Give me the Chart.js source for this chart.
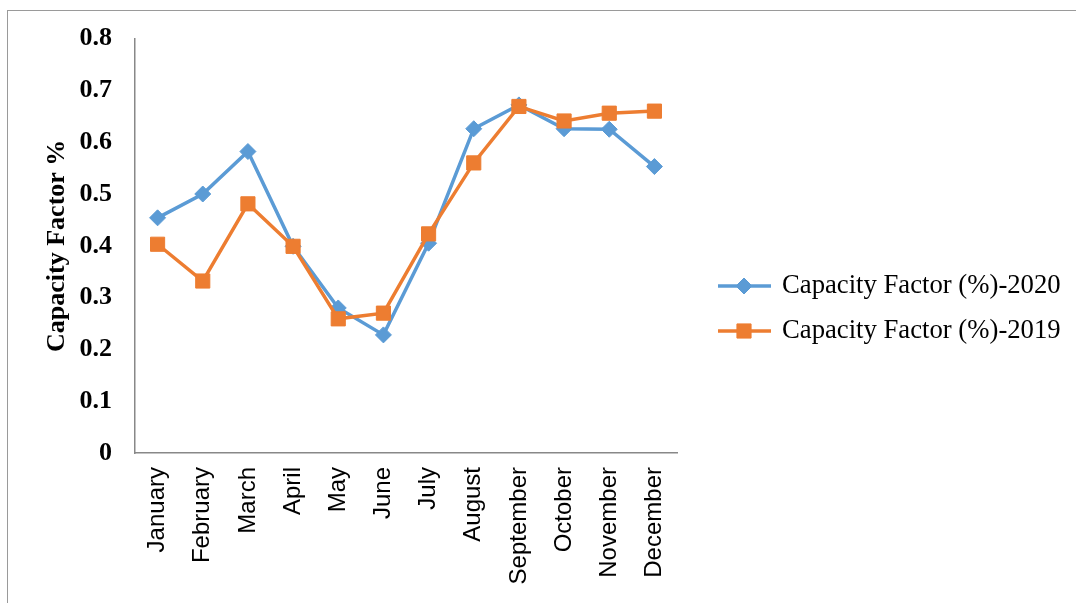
<!DOCTYPE html>
<html>
<head>
<meta charset="utf-8">
<script src="https://cdn.jsdelivr.net/npm/chart.js@4/dist/chart.umd.min.js"></script>
<style>
  html, body { margin: 0; padding: 0; background: #fff; }
  body { width: 1076px; height: 603px; position: relative; overflow: hidden; }
  #frame { position: absolute; left: 7px; top: 10px; width: 1200px; height: 700px;
           border-left: 1.5px solid #9a9a9a; border-top: 1.5px solid #9a9a9a; }
  #wrap { position: absolute; left: 0; top: 0; width: 1076px; height: 603px; }
</style>
</head>
<body>
<div id="frame"></div>
<div id="wrap"><canvas id="myChart" width="1076" height="603"></canvas></div>
<script>
const months = ['January', 'February', 'March', 'April', 'May', 'June',
  'July', 'August', 'September', 'October', 'November', 'December'];
const cf2020 = [0.454, 0.500, 0.582, 0.399, 0.280, 0.228, 0.405, 0.626, 0.672, 0.626, 0.625, 0.553];
const cf2019 = [0.403, 0.332, 0.481, 0.399, 0.259, 0.270, 0.423, 0.560, 0.669, 0.641, 0.656, 0.660];

const blue = '#5B9BD5';
const orange = '#ED7D31';
const serif = '"Liberation Serif", "Times New Roman", serif';

// legend drawn by hand: line with the marker on it, like the office chart
const sideLegend = {
  id: 'sideLegend',
  afterDraw(chart) {
    const c = chart.ctx;
    const items = [chart.data.datasets[0], chart.data.datasets[1]];
    items.forEach((ds, i) => {
      const y = 286 + i * 45;
      c.save();
      c.strokeStyle = ds.borderColor;
      c.lineWidth = 3.5;
      c.beginPath();
      c.moveTo(718, y);
      c.lineTo(771, y);
      c.stroke();
      c.fillStyle = ds.borderColor;
      c.lineWidth = 1;
      Chart.helpers.drawPoint(c, {pointStyle: ds.pointStyle, radius: ds.pointRadius, borderWidth: 1}, 744, y);
      c.fillStyle = '#000';
      c.font = '26.7px ' + serif;
      c.textBaseline = 'middle';
      c.fillText(ds.label, 782, y);
      c.restore();
    });
  }
};

const ctx = document.getElementById('myChart');
const myChart = new Chart(ctx, {
  type: 'line',
  data: {
    labels: months,
    datasets: [{
      label: 'Capacity Factor (%)-2020',
      data: cf2020,
      borderColor: blue,
      backgroundColor: blue,
      borderWidth: 3.5,
      pointStyle: 'rectRot',
      pointRadius: 8,
      pointBorderWidth: 1,
      tension: 0,
      order: 1
    }, {
      label: 'Capacity Factor (%)-2019',
      data: cf2019,
      borderColor: orange,
      backgroundColor: orange,
      borderWidth: 3.5,
      pointStyle: 'rect',
      pointRadius: 10,
      pointBorderWidth: 1,
      tension: 0,
      order: 0
    }]
  },
  options: {
    responsive: false,
    animation: false,
    devicePixelRatio: 1,
    layout: { padding: { left: 42, top: 38, right: 399, bottom: 0 } },
    plugins: { legend: { display: false }, tooltip: { enabled: false } },
    scales: {
      x: {
        offset: true,
        grid: { display: false, drawTicks: false },
        border: { display: true, color: '#888', width: 1.5 },
        ticks: {
          color: '#000',
          maxRotation: 90, minRotation: 90,
          padding: 14,
          autoSkip: false,
          font: { family: '"Liberation Sans", Arial, sans-serif', size: 24 }
        },
        afterFit(scale) { scale.height = 150; }
      },
      y: {
        min: 0, max: 0.8,
        grid: { display: false, drawTicks: false },
        border: { display: true, color: '#888', width: 1.5 },
        ticks: {
          stepSize: 0.1,
          color: '#000',
          padding: 23,
          font: { family: serif, size: 26, weight: 'bold' }
        },
        title: {
          display: true,
          text: 'Capacity Factor %',
          color: '#000',
          padding: { top: 0, bottom: 0 },
          font: { family: serif, size: 26, weight: 'bold' }
        },
        afterFit(scale) { scale.width = 93; }
      }
    }
  },
  plugins: [sideLegend]
});
</script>
</body>
</html>
